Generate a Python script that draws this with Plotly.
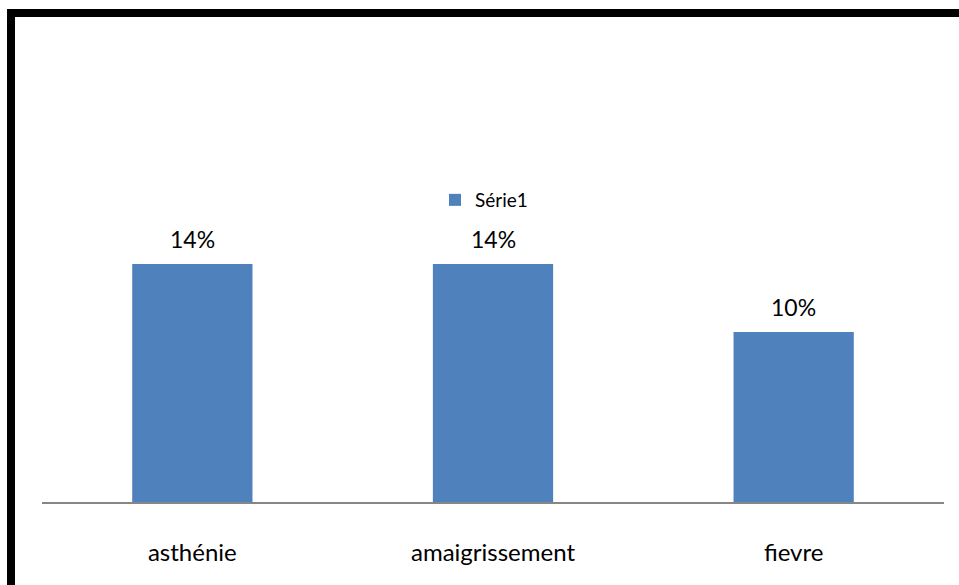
import plotly.graph_objects as go

categories = ["asthénie", "amaigrissement", "fievre"]
values = [0.14, 0.14, 0.10]
series_name = "Série1"

W, H = 959, 585
L, R, T, B = 42, 15, 230, 83
pw = W - L - R
ph = H - T - B
FONT = "Lato"

def px_to_paper_x(px):
    return (px - L) / pw

def px_to_paper_y(py):
    return (H - B - py) / ph

fig = go.Figure()
fig.add_trace(go.Bar(
    x=categories, y=values, name=series_name,
    marker=dict(color="#4F81BD", line=dict(width=0)),
    hoverinfo="x+y",
))

for c, v in zip(categories, values):
    fig.add_annotation(x=c, y=v, text=f"{v:.0%}", showarrow=False,
                       yanchor="middle", yshift=25,
                       font=dict(size=23, family=FONT, color="black"))

fig.update_layout(
    width=W, height=H,
    margin=dict(l=L, r=R, t=T, b=B),
    paper_bgcolor="white", plot_bgcolor="white",
    bargap=0.6,
    showlegend=True,
    legend=dict(orientation="h", x=0.49, xanchor="center",
                y=px_to_paper_y(200), yanchor="middle",
                font=dict(size=19, family=FONT, color="black"),
                itemwidth=30, bgcolor="rgba(0,0,0,0)"),
    font=dict(family=FONT, color="black"),
    xaxis=dict(showline=True, linecolor="#868686", linewidth=1.5,
               ticks="", tickfont=dict(size=24, family=FONT, color="black"),
               ticklabelstandoff=28, showgrid=False, zeroline=False),
    yaxis=dict(range=[0, 0.16], visible=False, showgrid=False, zeroline=False),
    shapes=[dict(type="rect", xref="paper", yref="paper",
                 x0=px_to_paper_x(11), y0=px_to_paper_y(620),
                 x1=px_to_paper_x(990), y1=px_to_paper_y(13),
                 line=dict(color="black", width=8), fillcolor="rgba(0,0,0,0)",
                 layer="above")],
)

fig.write_html("out.html", config={"displayModeBar": False},
               post_script="document.body.style.margin='0';document.body.style.overflow='hidden';")
